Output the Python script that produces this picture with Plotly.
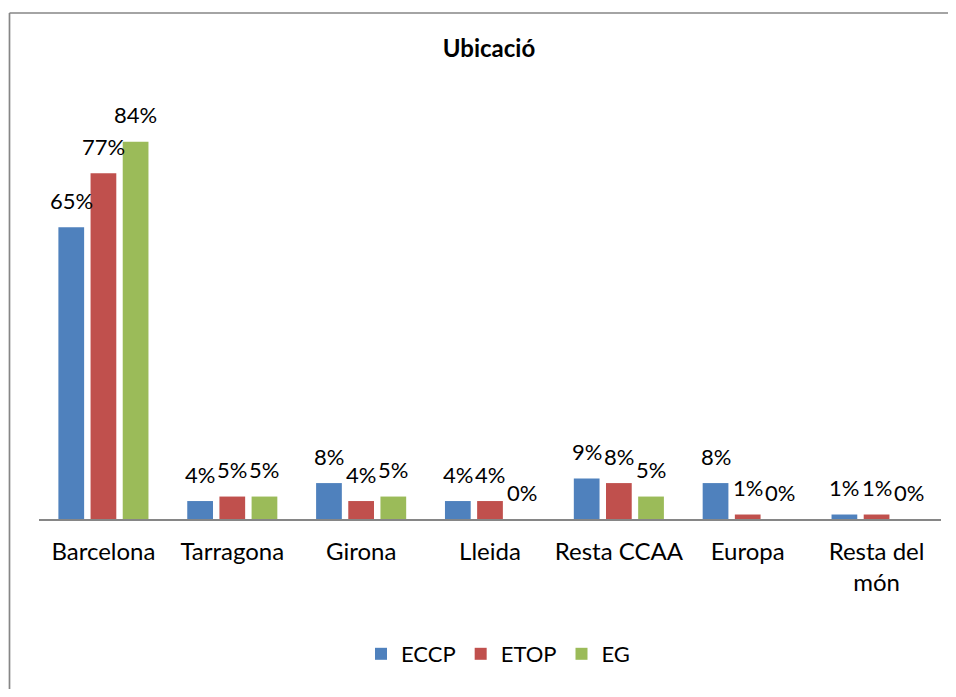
import plotly.graph_objects as go

categories = ["Barcelona", "Tarragona", "Girona", "Lleida", "Resta CCAA", "Europa", "Resta del<br>món"]
series_names = ["ECCP", "ETOP", "EG"]
eccp = [65, 4, 8, 4, 9, 8, 1]
etop = [77, 5, 4, 4, 8, 1, 1]
eg = [84, 5, 5, 0, 5, 0, 0]
colors = ["#4F81BD", "#C0504D", "#9BBB59"]

FONT = "Lato"
series = [eccp, etop, eg]

fig = go.Figure()
for name, vals, col in zip(series_names, series, colors):
    fig.add_trace(go.Bar(
        x=categories, y=vals, name=name,
        marker=dict(color=col, line=dict(width=0)),
        hoverinfo="skip",
    ))

# data labels placed above each bar through the axis scales
offsets = [-32.2, 0, 32.2]
annotations = []
for vals, dx in zip(series, offsets):
    for cat, v in zip(categories, vals):
        annotations.append(dict(
            x=cat, y=v, xref="x", yref="y",
            text=f"{v}%", showarrow=False,
            xshift=dx, yshift=27, yanchor="middle", xanchor="center",
            font=dict(family=FONT, size=22, color="#000000"),
        ))

# page body adds an 8px margin, so internal coordinates = screen - 8
W, H = 948, 681
L, R_EDGE, TOP, BASE = 31, 933, 62, 511
pw, ph = R_EDGE - L, BASE - TOP

bx = (1.5 - L) / pw
by = (BASE - 5) / ph
border = dict(color="#868686", width=1.7)

fig.update_layout(
    width=W, height=H,
    margin=dict(l=L, r=W - R_EDGE, t=TOP, b=H - BASE, pad=0),
    paper_bgcolor="white", plot_bgcolor="white",
    barmode="group", bargap=0.251, bargroupgap=0.2,
    font=dict(family=FONT, color="#000000"),
    title=dict(text="<b>Ubicació</b>", x=481 / W, xanchor="center",
               y=1 - 41 / H, yanchor="middle", xref="container", yref="container",
               font=dict(family=FONT, size=24, color="#000000")),
    xaxis=dict(showgrid=False, showline=True, linecolor="#868686", linewidth=2,
               ticks="", ticklabelstandoff=10,
               tickfont=dict(family=FONT, size=24, color="#000000"),
               zeroline=False),
    yaxis=dict(range=[0, 100], visible=False, showgrid=False, zeroline=False),
    legend=dict(orientation="h", x=(498 - 8 - L) / pw, xanchor="center", y=(BASE - 646) / ph,
                yanchor="middle", font=dict(family=FONT, size=22, color="#000000"),
                traceorder="normal"),
    annotations=annotations,
    shapes=[
        dict(type="line", xref="paper", yref="paper",
             x0=bx, x1=bx, y0=-1.0, y1=by, line=border, layer="below"),
        dict(type="line", xref="paper", yref="paper",
             x0=bx, x1=1.5, y0=by, y1=by, line=border, layer="below"),
    ],
    showlegend=True,
)

fig.write_html("out.html")
